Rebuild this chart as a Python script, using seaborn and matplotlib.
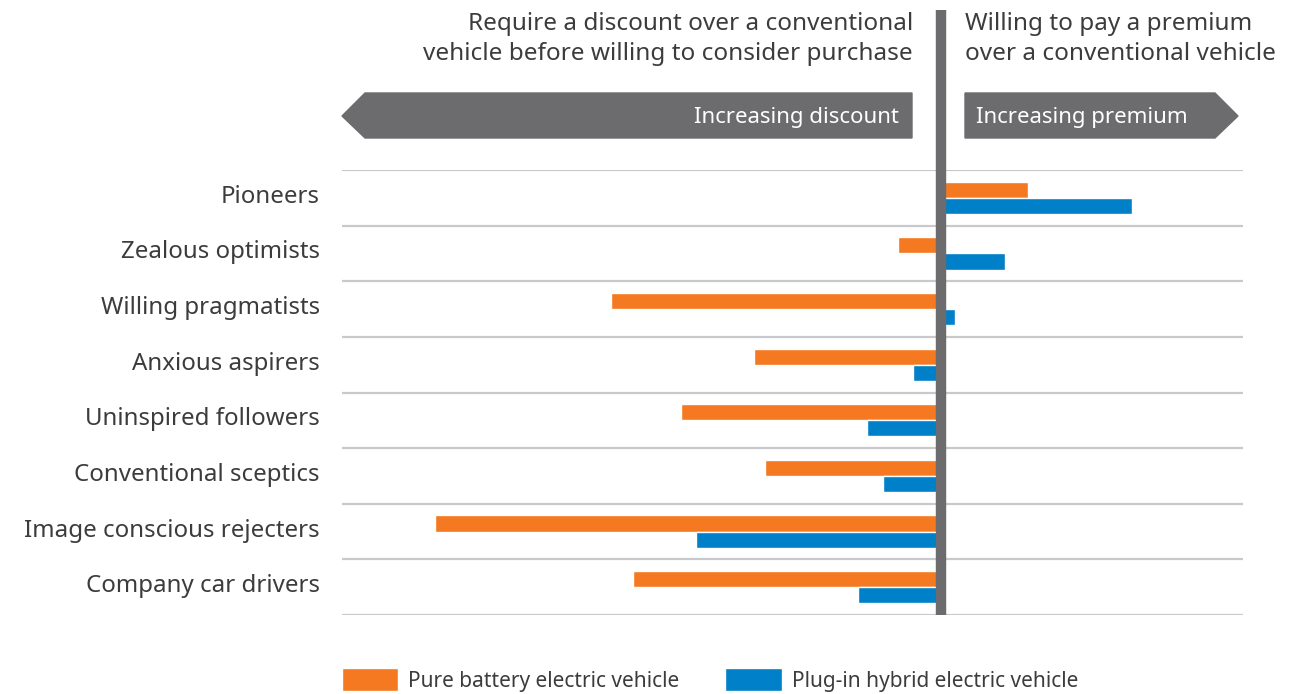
import matplotlib

matplotlib.use("Agg")
import matplotlib.pyplot as plt
import matplotlib.transforms as mtransforms
from matplotlib.patches import Polygon
import pandas as pd
import seaborn as sns

# segments (top to bottom)
segments = [
    "Pioneers",
    "Zealous optimists",
    "Willing pragmatists",
    "Anxious aspirers",
    "Uninspired followers",
    "Conventional sceptics",
    "Image conscious rejecters",
    "Company car drivers",
]
# willingness to pay, relative scale (negative = discount required)
bev_values = [8.7, -4.3, -33.0, -18.7, -26.0, -17.6, -50.6, -30.8]
phev_values = [19.1, 6.4, 1.4, -2.8, -7.4, -5.8, -24.5, -8.3]
series_names = ["Pure battery electric vehicle", "Plug-in hybrid electric vehicle"]

ORANGE = "#f47920"
BLUE = "#0080c8"
GREY = "#6c6c6f"
GRID = "#c9c9cd"
TEXT = "#3c3c3c"

df = pd.DataFrame({
    "segment": segments * 2,
    "value": bev_values + phev_values,
    "type": [series_names[0]] * len(segments) + [series_names[1]] * len(segments),
})

sns.set_theme(style="white")
plt.rcParams["font.family"] = ["Noto Sans", "DejaVu Sans"]

fig = plt.figure(figsize=(13.06, 6.94), dpi=100)
ax = fig.add_axes([342 / 1306, 1 - 615 / 694, (1243 - 342) / 1306, (615 - 170) / 694])

sns.barplot(data=df, y="segment", x="value", hue="type", order=segments,
            hue_order=series_names, palette=[ORANGE, BLUE], orient="h",
            width=0.58, saturation=1, ax=ax)

ax.set_xlim(-59.9, 30.2)
ax.set_ylim(len(segments) - 0.5, -0.5)
ax.set_xlabel("")
ax.set_ylabel("")
ax.set_xticks([])
for s in ax.spines.values():
    s.set_visible(False)

# horizontal separators between groups
for y in [i - 0.5 for i in range(len(segments) + 1)]:
    ax.axhline(y, color=GRID, lw=1.6, zorder=0)

ax.tick_params(axis="y", length=0, pad=16)
lift = mtransforms.ScaledTranslation(0, 4 / 100, fig.dpi_scale_trans)
for tick in ax.yaxis.get_major_ticks():
    lab = tick.label1
    lab.set_fontsize(17.3)
    lab.set_color(TEXT)
    lab.set_transform(lab.get_transform() + lift)

# zero line, extends up through the header
trans = mtransforms.blended_transform_factory(ax.transData, ax.transAxes)
ax.plot([0, 0], [0, (615 - 10) / 445], transform=trans, color=GREY, lw=7.5,
        clip_on=False, solid_capstyle="butt", zorder=5)

# header arrows (figure pixel coords)
def px(x, y):
    return (x / 1306, 1 - y / 694)

left_arrow = Polygon([px(342, 116), px(365, 93), px(912, 93), px(912, 138), px(365, 138)],
                     closed=True, transform=fig.transFigure, color=GREY)
right_arrow = Polygon([px(965, 93), px(1215, 93), px(1238, 116), px(1215, 138), px(965, 138)],
                      closed=True, transform=fig.transFigure, color=GREY)
fig.patches.extend([left_arrow, right_arrow])
fig.text(*px(899, 118), "Increasing discount", color="white", fontsize=16,
         ha="right", va="center")
fig.text(*px(976, 118), "Increasing premium", color="white", fontsize=16,
         ha="left", va="center")

fig.text(*px(913, 39), "Require a discount over a conventional\nvehicle before willing to consider purchase",
         color=TEXT, fontsize=17.5, ha="right", va="center", linespacing=1.38)
fig.text(*px(965, 39), "Willing to pay a premium\nover a conventional vehicle",
         color=TEXT, fontsize=17.5, ha="left", va="center", linespacing=1.38)

sns.move_legend(ax, "center left", bbox_to_anchor=(342 / 1306, 1 - 680 / 694),
                bbox_transform=fig.transFigure, ncol=2, frameon=False, title=None,
                fontsize=15, handlelength=2.7, handleheight=1.25, handletextpad=0.48,
                columnspacing=2.2, borderaxespad=0, borderpad=0)
for t in ax.get_legend().get_texts():
    t.set_color(TEXT)

fig.savefig("out.png", dpi=100)
